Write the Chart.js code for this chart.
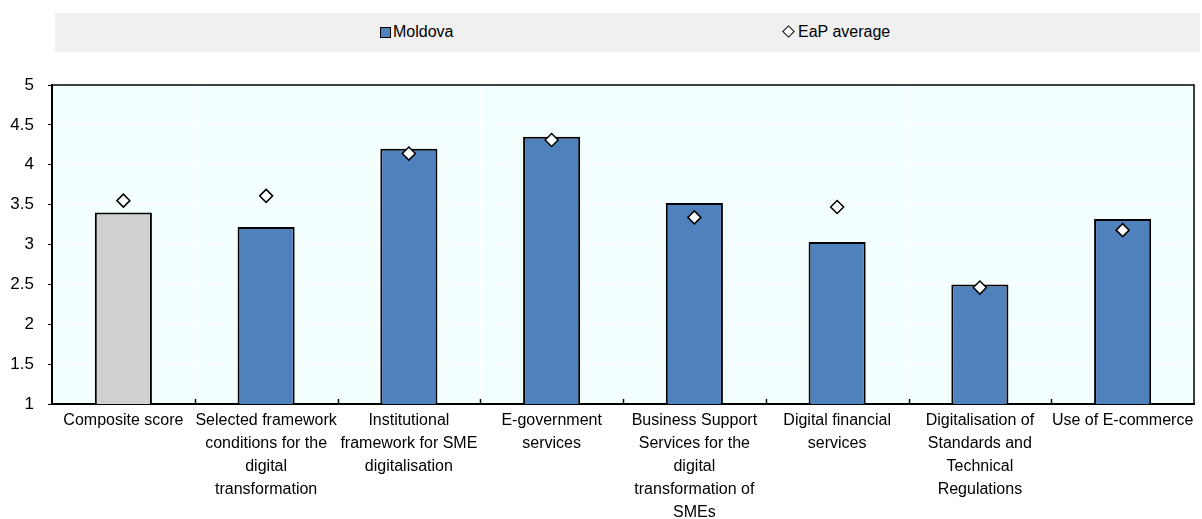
<!DOCTYPE html>
<html>
<head>
<meta charset="utf-8">
<script src="https://cdn.jsdelivr.net/npm/chart.js@4"></script>
<style>
  body { margin: 0; background: #fff; font-family: "Liberation Sans", Arial, sans-serif; }
  #wrap { position: relative; width: 1202px; height: 519px; }
  #legend { position: absolute; left: 55px; top: 13px; width: 1145px; height: 39px; background: #F0F0F0; font-size: 16px; color: #000; }
  .item { position: absolute; top: 10px; line-height: 18px; white-space: nowrap; }
  .box { display: inline-block; width: 9px; height: 9px; border: 1px solid #000; background: #4F81BD; margin-right: 2px; vertical-align: -1px; }
  .diamond { display: inline-block; width: 7px; height: 7px; border: 1.3px solid #000; background: #fff; transform: rotate(45deg); margin: 0 5px 0 2px; vertical-align: 1px; }
  #chart { position: absolute; left: 0; top: 0; }
</style>
</head>
<body>
<div id="wrap">
  <canvas id="chart" width="1202" height="519"></canvas>
  <div id="legend">
    <span class="item" style="left:325px"><span class="box"></span>Moldova</span>
    <span class="item" style="left:727px"><span class="diamond"></span>EaP average</span>
  </div>
</div>
<script>
// categories (x axis labels, already wrapped as in the figure)
const categories = [
    "Composite score",
    ["Selected framework", "conditions for the", "digital", "transformation"],
    ["Institutional", "framework for SME", "digitalisation"],
    ["E-government", "services"],
    ["Business Support", "Services for the", "digital", "transformation of", "SMEs"],
    ["Digital financial", "services"],
    ["Digitalisation of", "Standards and", "Technical", "Regulations"],
    "Use of E-commerce"
];
const moldova = [3.40, 3.22, 4.20, 4.35, 3.52, 3.03, 2.50, 3.32];
const eapAverage = [3.55, 3.61, 4.14, 4.31, 3.34, 3.47, 2.46, 3.18];
const yMin = 1;
const yMax = 5;
const yStep = 0.5;

const blue = "#4F81BD";
const grey = "#D0D0D0";

// fond du graphique + bordure haut/droite + petites graduations internes
const plotDecor = {
    id: 'plotDecor',
    beforeDraw(chart) {
        const { ctx, chartArea: a } = chart;
        ctx.save();
        ctx.fillStyle = "#F4FFFF";
        ctx.fillRect(a.left, a.top, a.right - a.left, a.bottom - a.top);
        ctx.restore();
    },
    afterDraw(chart) {
        const { ctx, chartArea: a } = chart;
        const x = chart.scales.x;
        ctx.save();
        ctx.strokeStyle = "#000";
        ctx.lineWidth = 1.5;
        ctx.beginPath();
        ctx.moveTo(a.left, a.top);
        ctx.lineTo(a.right, a.top);
        ctx.lineTo(a.right, a.bottom);
        ctx.stroke();
        for (let i = 1; i < categories.length; i++) {
            const px = Math.round((x.getPixelForValue(i - 1) + x.getPixelForValue(i)) / 2) + 0.5;
            ctx.beginPath();
            ctx.moveTo(px, a.bottom);
            ctx.lineTo(px, a.bottom - 5);
            ctx.stroke();
        }
        ctx.restore();
    }
};

const ctx = document.getElementById('chart').getContext('2d');
new Chart(ctx, {
    type: 'bar',
    data: {
        labels: categories,
        datasets: [
            {
                label: 'Moldova',
                data: moldova,
                backgroundColor: c => c.dataIndex === 0 ? grey : blue,
                borderColor: '#000',
                borderWidth: 2,
                categoryPercentage: 1,
                barPercentage: 0.4,
                order: 2
            },
            {
                type: 'line',
                label: 'EaP average',
                data: eapAverage,
                showLine: false,
                pointStyle: 'rectRot',
                pointRadius: 6.5,
                pointHoverRadius: 6.5,
                pointBackgroundColor: '#fff',
                pointBorderColor: '#000',
                pointBorderWidth: 1.5,
                order: 1
            }
        ]
    },
    options: {
        responsive: false,
        animation: false,
        layout: { padding: { top: 85, right: 1, left: 0, bottom: 0 } },
        plugins: {
            legend: { display: false },
            tooltip: { enabled: false }
        },
        scales: {
            x: {
                offset: true,
                grid: { color: '#FFFFFF', lineWidth: 1, drawTicks: false },
                border: { color: '#000', width: 2 },
                ticks: {
                    color: '#000',
                    padding: 5,
                    maxRotation: 0,
                    autoSkip: false,
                    font: { family: 'Liberation Sans', size: 16, lineHeight: 1.44 }
                },
                afterFit(scale) { scale.height = 115; }
            },
            y: {
                min: yMin,
                max: yMax,
                grid: { color: '#FFFFFF', lineWidth: 1, tickColor: '#000', tickLength: 4 },
                border: { color: '#000', width: 2 },
                ticks: {
                    stepSize: yStep,
                    color: '#000',
                    padding: 14,
                    font: { family: 'Liberation Sans', size: 17 },
                    callback: v => String(v)
                },
                afterFit(scale) { scale.width = 52; }
            }
        }
    },
    plugins: [plotDecor]
});
</script>
</body>
</html>
